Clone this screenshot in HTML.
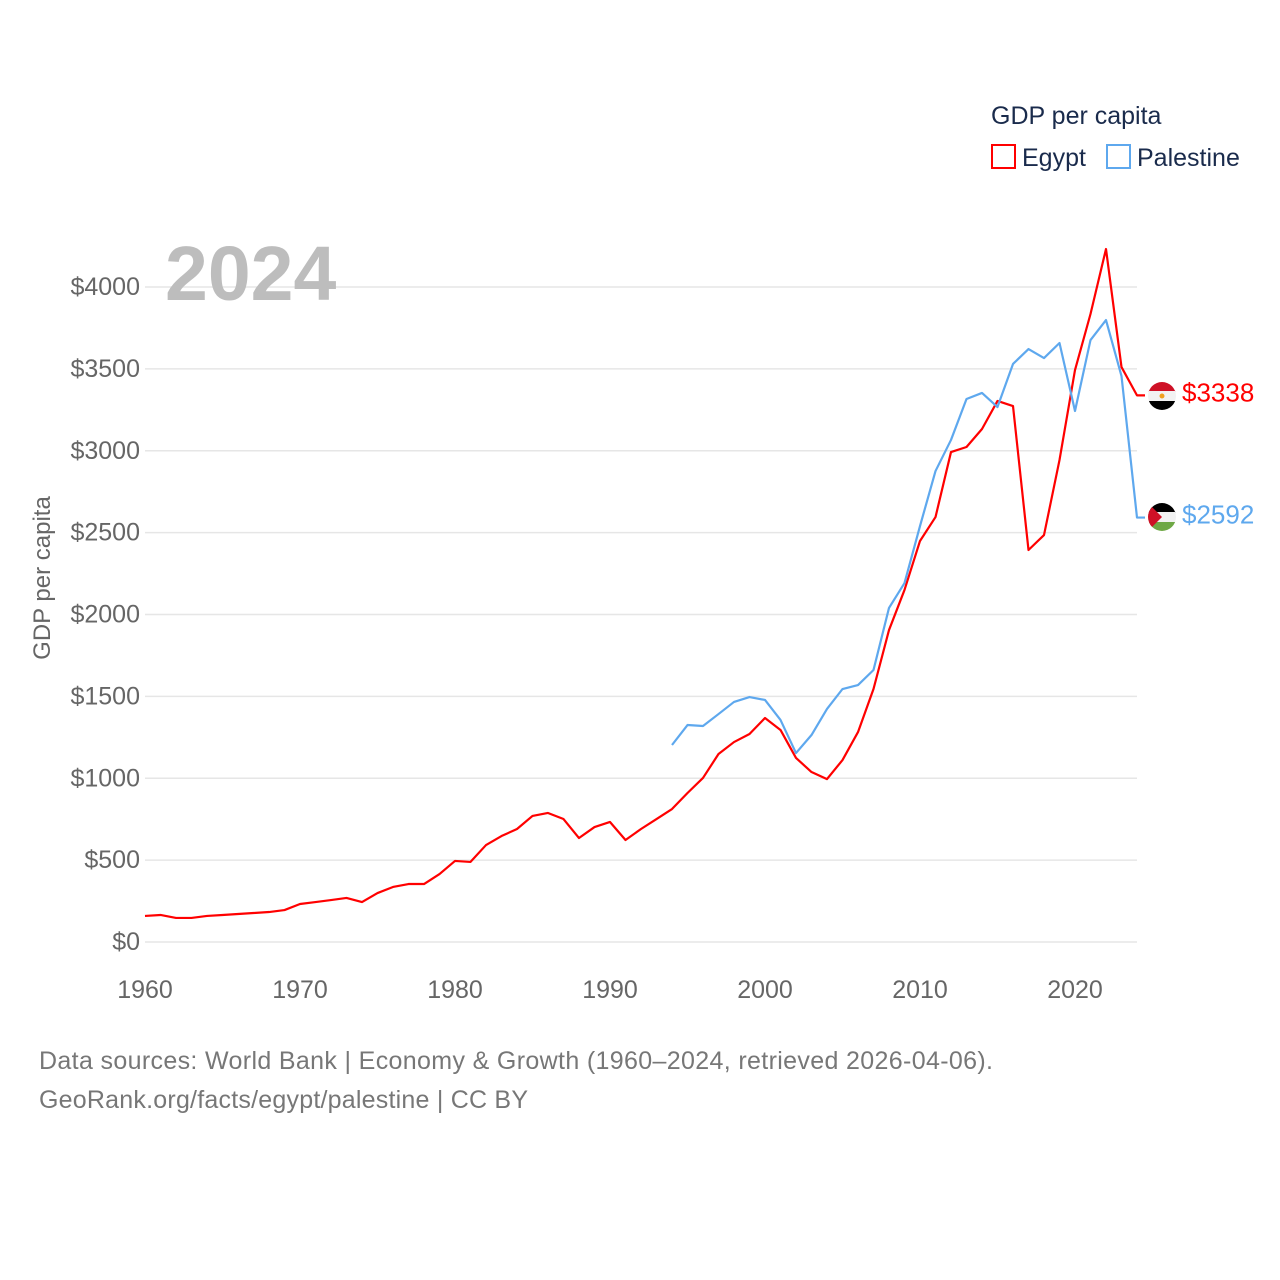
<!DOCTYPE html>
<html><head><meta charset="utf-8"><style>
html,body{margin:0;padding:0;background:#fff;}
svg{display:block;font-family:"Liberation Sans",sans-serif;}
</style></head><body>
<svg id="chart" width="1280" height="1280" viewBox="0 0 1280 1280" xmlns="http://www.w3.org/2000/svg">
<g id="grid"></g>
<g id="yticks"></g>
<g id="xticks"></g>
<text x="165" y="300" font-size="77" font-weight="bold" fill="#bdbdbd">2024</text>
<text transform="translate(50,578) rotate(-90)" text-anchor="middle" font-size="24" fill="#666">GDP per capita</text>
<g>
<text x="991" y="124" font-size="25" fill="#1a2b4c">GDP per capita</text>
<rect x="992" y="145" width="23" height="23" fill="none" stroke="#ff0000" stroke-width="2"/>
<text x="1022" y="166" font-size="25" fill="#1a2b4c">Egypt</text>
<rect x="1107" y="145" width="23" height="23" fill="none" stroke="#5ea8ee" stroke-width="2"/>
<text x="1137" y="166" font-size="25" fill="#1a2b4c">Palestine</text>
</g>
<g id="series"></g>
<g>
<clipPath id="c1"><circle cx="1162" cy="396" r="14"/></clipPath>
<g clip-path="url(#c1)"><rect x="1148" y="382" width="28" height="10" fill="#ce1126"/><rect x="1148" y="391" width="28" height="10" fill="#f2f2f2"/><rect x="1148" y="401" width="28" height="10" fill="#000"/><circle cx="1162" cy="396" r="2.5" fill="#f0a020"/></g>
</g>
<g>
<clipPath id="c2"><circle cx="1162" cy="517" r="14"/></clipPath>
<g clip-path="url(#c2)"><rect x="1148" y="503" width="28" height="10" fill="#000"/><rect x="1148" y="512" width="28" height="10" fill="#f2f2f2"/><rect x="1148" y="522" width="28" height="10" fill="#6ea845"/><polygon points="1148,503 1162,517 1148,531" fill="#ce1126"/></g>
</g>
<g id="endlabels"></g>
<text x="39" y="1069" font-size="25" fill="#777" textLength="954">Data sources: World Bank | Economy &amp; Growth (1960–2024, retrieved 2026-04-06).</text>
<text x="39" y="1108" font-size="25" fill="#777" textLength="489">GeoRank.org/facts/egypt/palestine | CC BY</text>
</svg>
<script>
const egyptYears = [];
for (let y = 1960; y <= 2024; y++) egyptYears.push(y);
const egyptValues = [159,165,147,147,159,165,171,177,183,195,232,244,256,269,244,299,336,354,354,415,495,489,592,647,690,770,788,751,635,702,733,623,690,751,812,910,1002,1148,1221,1270,1368,1295,1124,1038,995,1111,1282,1545,1905,2150,2449,2595,2992,3023,3133,3304,3273,2394,2485,2943,3493,3835,4232,3511,3338];
const palestineYears = [];
for (let y = 1994; y <= 2024; y++) palestineYears.push(y);
const palestineValues = [1203,1325,1319,1392,1466,1496,1478,1356,1154,1264,1423,1545,1569,1661,2040,2192,2540,2876,3066,3316,3353,3267,3530,3621,3566,3658,3243,3676,3798,3456,2592];
const yTicks = [0,500,1000,1500,2000,2500,3000,3500,4000];
const xTicks = [1960,1970,1980,1990,2000,2010,2020];

const NS = "http://www.w3.org/2000/svg";
const X = yr => 145 + (yr - 1960) * 15.5;
const Y = v => 942 - v * 0.16375;
function mk(tag, attrs, parent, txt) {
  const e = document.createElementNS(NS, tag);
  for (const k in attrs) e.setAttribute(k, attrs[k]);
  if (txt !== undefined) e.textContent = txt;
  parent.appendChild(e);
  return e;
}
const grid = document.getElementById('grid'), yt = document.getElementById('yticks'), xt = document.getElementById('xticks');
yTicks.forEach(v => {
  const l = mk('line', {x1:145, x2:1137, y1:Y(v), y2:Y(v), stroke:'#e6e6e6', 'stroke-width':1.5}, grid);
  
  
  const t = mk('text', {x:140, y:Y(v)+8, 'text-anchor':'end', 'font-size':25, fill:'#666'}, yt, '$' + v);
  
  
});
xTicks.forEach(yr => {
  const t = mk('text', {x:X(yr), y:998, 'text-anchor':'middle', 'font-size':25, fill:'#666'}, xt, yr);
  
  
});
const series = document.getElementById('series');
function line(years, vals, color, name) {
  let d = years.map((yr,i) => (i ? 'L' : 'M') + X(yr) + ' ' + Y(vals[i])).join(' ');
  const last = vals[vals.length-1];
  d += ' L ' + (X(years[years.length-1]) + 8) + ' ' + Y(last);
  const p = mk('path', {d, fill:'none', stroke:color, 'stroke-width':2.2, 'stroke-linejoin':'round'}, series);
  
  
  const t = mk('text', {x:1182, y:Y(last)+6, 'font-size':26, fill:color}, document.getElementById('endlabels'), '$' + last);
  
  
}
line(egyptYears, egyptValues, '#ff0000', 'egypt-line');
line(palestineYears, palestineValues, '#5ea8ee', 'palestine-line');
</script>
</body></html>
